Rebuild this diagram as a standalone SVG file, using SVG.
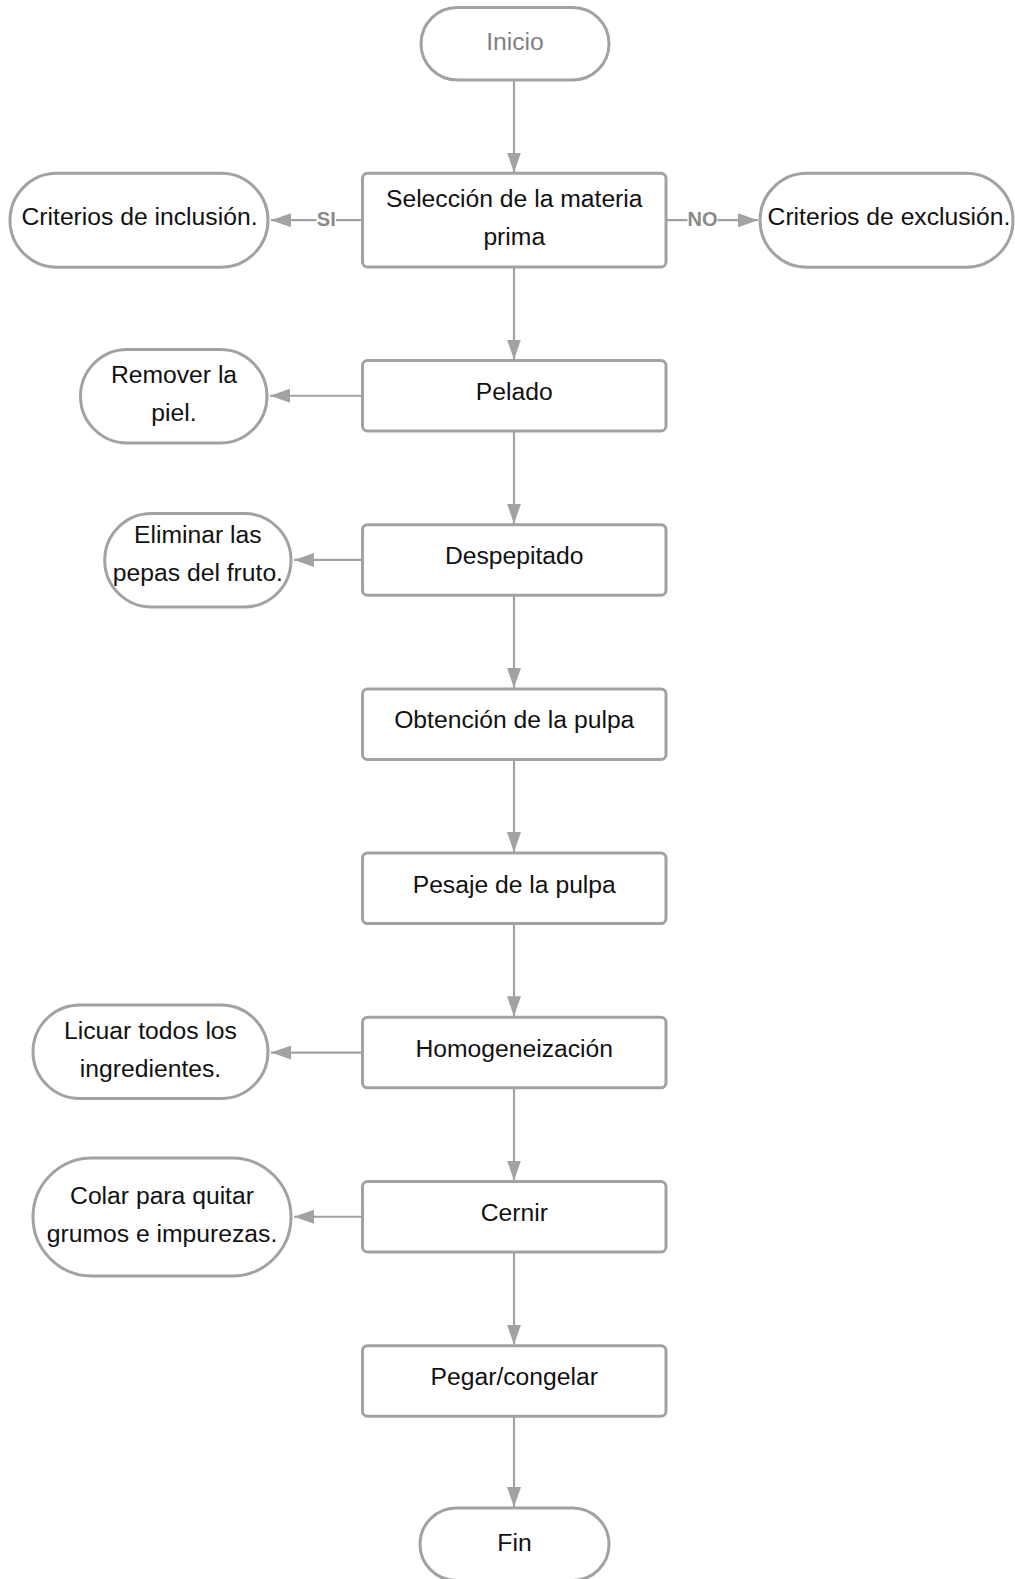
<svg xmlns="http://www.w3.org/2000/svg" width="1015" height="1579" viewBox="0 0 1015 1579">
<style>
.box{fill:#fff;stroke:#a2a2a2;stroke-width:3}
.t{font-family:"Liberation Sans",Arial,sans-serif;font-size:24.7px;fill:#111;text-anchor:middle}
.g{fill:#808080}
.c{stroke:#a2a2a2;stroke-width:2.2;fill:none}
.lbl{font-family:"Liberation Sans",Arial,sans-serif;font-size:20px;font-weight:bold;fill:#8a8a8a;text-anchor:middle}
</style>
<defs>
<marker id="ah" markerWidth="20" markerHeight="14" refX="20" refY="7" orient="auto" markerUnits="userSpaceOnUse">
<path d="M0,0 L20,7 L0,14 z" fill="#a2a2a2"/>
</marker>
</defs>
<g id="connectors">
<line class="c" x1="514" y1="80" x2="514" y2="172.5" marker-end="url(#ah)"/>
<line class="c" x1="514" y1="267" x2="514" y2="359.5" marker-end="url(#ah)"/>
<line class="c" x1="514" y1="431" x2="514" y2="523.7" marker-end="url(#ah)"/>
<line class="c" x1="514" y1="595.2" x2="514" y2="687.9" marker-end="url(#ah)"/>
<line class="c" x1="514" y1="759.4" x2="514" y2="852.1" marker-end="url(#ah)"/>
<line class="c" x1="514" y1="923.6" x2="514" y2="1016.3" marker-end="url(#ah)"/>
<line class="c" x1="514" y1="1087.8" x2="514" y2="1180.5" marker-end="url(#ah)"/>
<line class="c" x1="514" y1="1252" x2="514" y2="1344.7" marker-end="url(#ah)"/>
<line class="c" x1="514" y1="1416.2" x2="514" y2="1507" marker-end="url(#ah)"/>
<line class="c" x1="362.5" y1="220.2" x2="271" y2="220.2" marker-end="url(#ah)"/>
<line class="c" x1="666" y1="220.2" x2="758" y2="220.2" marker-end="url(#ah)"/>
<line class="c" x1="362.5" y1="395.75" x2="270" y2="395.75" marker-end="url(#ah)"/>
<line class="c" x1="362.5" y1="559.95" x2="294" y2="559.95" marker-end="url(#ah)"/>
<line class="c" x1="362.5" y1="1052.55" x2="271" y2="1052.55" marker-end="url(#ah)"/>
<line class="c" x1="362.5" y1="1216.75" x2="294" y2="1216.75" marker-end="url(#ah)"/>
<rect x="316.5" y="208" width="19.5" height="20" fill="#fff"/>
<text class="lbl" x="326.3" y="225.5">SI</text>
<rect x="687.5" y="208" width="30" height="20" fill="#fff"/>
<text class="lbl" x="702.5" y="225.5">NO</text>
</g>
<g id="inicio">
<rect class="box" x="421" y="7.5" width="188" height="72.5" rx="36.25"/>
<text class="t g" x="515" y="50">Inicio</text>
</g>
<g id="seleccion">
<rect class="box" x="362.5" y="173.3" width="303.5" height="93.7" rx="5"/>
<text class="t" x="514.25" y="207">Selección de la materia</text>
<text class="t" x="514.25" y="245">prima</text>
</g>
<g id="inclusion">
<rect class="box" x="10" y="173.3" width="258" height="94" rx="47"/>
<text class="t" x="139.5" y="224.5">Criterios de inclusión.</text>
</g>
<g id="exclusion">
<rect class="box" x="760" y="173.3" width="253" height="94" rx="47"/>
<text class="t" x="889" y="224.5">Criterios de exclusión.</text>
</g>
<g id="pelado">
<rect class="box" x="362.5" y="360.5" width="303.5" height="70.5" rx="5"/>
<text class="t" x="514.25" y="400">Pelado</text>
</g>
<g id="remover">
<rect class="box" x="80.5" y="349.5" width="186.5" height="93.5" rx="46.75"/>
<text class="t" x="174" y="383">Remover la</text>
<text class="t" x="174" y="421">piel.</text>
</g>
<g id="despepitado">
<rect class="box" x="362.5" y="524.7" width="303.5" height="70.5" rx="5"/>
<text class="t" x="514.25" y="564.2">Despepitado</text>
</g>
<g id="eliminar">
<rect class="box" x="104.7" y="513.5" width="186.3" height="93.5" rx="46.75"/>
<text class="t" x="197.9" y="542.5">Eliminar las</text>
<text class="t" x="197.9" y="580.5">pepas del fruto.</text>
</g>
<g id="obtencion">
<rect class="box" x="362.5" y="688.9" width="303.5" height="70.5" rx="5"/>
<text class="t" x="514.25" y="728.4">Obtención de la pulpa</text>
</g>
<g id="pesaje">
<rect class="box" x="362.5" y="853.1" width="303.5" height="70.5" rx="5"/>
<text class="t" x="514.25" y="892.6">Pesaje de la pulpa</text>
</g>
<g id="homogeneizacion">
<rect class="box" x="362.5" y="1017.3" width="303.5" height="70.5" rx="5"/>
<text class="t" x="514.25" y="1056.8">Homogeneización</text>
</g>
<g id="licuar">
<rect class="box" x="33" y="1005" width="235" height="93.5" rx="46.75"/>
<text class="t" x="150.5" y="1039">Licuar todos los</text>
<text class="t" x="150.5" y="1077">ingredientes.</text>
</g>
<g id="cernir">
<rect class="box" x="362.5" y="1181.5" width="303.5" height="70.5" rx="5"/>
<text class="t" x="514.25" y="1221">Cernir</text>
</g>
<g id="colar">
<rect class="box" x="33" y="1158" width="258" height="118" rx="59"/>
<text class="t" x="162" y="1204">Colar para quitar</text>
<text class="t" x="162" y="1242">grumos e impurezas.</text>
</g>
<g id="pegar">
<rect class="box" x="362.5" y="1345.7" width="303.5" height="70.5" rx="5"/>
<text class="t" x="514.25" y="1385.2">Pegar/congelar</text>
</g>
<g id="fin">
<rect class="box" x="420" y="1508" width="189" height="72.5" rx="36.25"/>
<text class="t" x="514.5" y="1551">Fin</text>
</g>
</svg>
